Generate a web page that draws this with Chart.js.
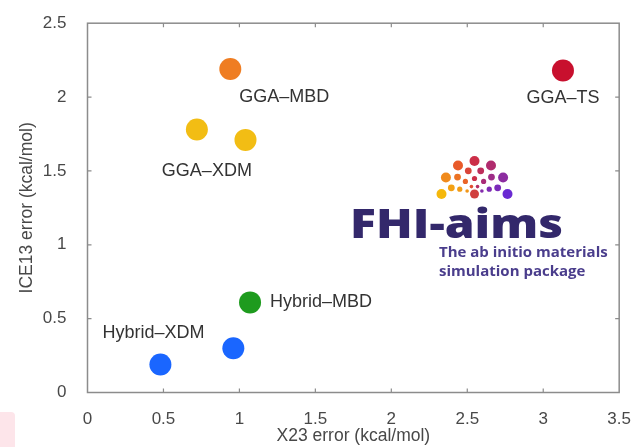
<!DOCTYPE html>
<html>
<head>
<meta charset="utf-8">
<script src="https://cdn.jsdelivr.net/npm/chart.js@4"></script>
<style>
  html, body { margin: 0; padding: 0; background: #fff; }
  #wrap { position: relative; width: 640px; height: 447px; }
  #blob { position: absolute; left: 0; top: 412px; width: 15px; height: 35px; background: #fde5ea; border-top-right-radius: 4px; }
</style>
</head>
<body>
<div id="wrap">
  <div id="blob"></div>
  <canvas id="chart"></canvas>
</div>
<script>
// datos
const grupos = ['GGA–MBD', 'GGA–TS', 'GGA–XDM', 'Hybrid–MBD', 'Hybrid–XDM'];
const errX23 = [[0.94], [3.13], [0.72, 1.04], [1.07], [0.48, 0.96]];
const errICE13 = [[2.19], [2.18], [1.78, 1.71], [0.61], [0.19, 0.30]];
const colores = ['#ef7d22', '#c8102e', '#f2bd14', '#1e9b1e', '#1a66ff'];
const ticksX = [0, 0.5, 1, 1.5, 2, 2.5, 3, 3.5];
const ticksY = [0, 0.5, 1, 1.5, 2, 2.5];

// donde va cada etiqueta respecto al primer punto del grupo
const etiquetas = {
  'GGA–MBD':    { dx: 9,  dy: 28, align: 'left' },
  'GGA–TS':     { dx: 0,  dy: 28, align: 'center' },
  'GGA–XDM':    { dx: 10, dy: 41, align: 'center' },
  'Hybrid–MBD': { dx: 20, dy: 0,  align: 'left' },
  'Hybrid–XDM': { dx: -7, dy: -31, align: 'center' }
};

const datasets = grupos.map((g, i) => ({
  label: g,
  data: errX23[i].map((x, j) => ({ x, y: errICE13[i][j] })),
  backgroundColor: colores[i],
  borderWidth: 0,
  pointRadius: 11,
  pointHoverRadius: 11
}));

// marco con marcas hacia dentro
const marco = {
  id: 'marco',
  beforeDatasetsDraw(chart) {
    const { ctx, chartArea: a, scales: { x, y } } = chart;
    ctx.save();
    ctx.strokeStyle = '#8c8c8c';
    ctx.lineWidth = 1.5;
    ctx.strokeRect(a.left, a.top, a.right - a.left, a.bottom - a.top);
    ctx.lineWidth = 1.2;
    ctx.beginPath();
    for (const v of ticksX.slice(1, -1)) {
      const px = x.getPixelForValue(v);
      ctx.moveTo(px, a.bottom); ctx.lineTo(px, a.bottom - 4);
      ctx.moveTo(px, a.top); ctx.lineTo(px, a.top + 4);
    }
    for (const v of ticksY.slice(1, -1)) {
      const py = y.getPixelForValue(v);
      ctx.moveTo(a.left, py); ctx.lineTo(a.left + 4, py);
      ctx.moveTo(a.right, py); ctx.lineTo(a.right - 4, py);
    }
    ctx.stroke();
    ctx.restore();
  }
};

// nombres de los grupos junto a los puntos
const rotulos = {
  id: 'rotulos',
  afterDatasetsDraw(chart) {
    const { ctx } = chart;
    ctx.save();
    ctx.font = '18px "Liberation Sans", Arial, sans-serif';
    ctx.fillStyle = '#333';
    ctx.textBaseline = 'middle';
    chart.data.datasets.forEach((ds, i) => {
      const p = chart.getDatasetMeta(i).data[0];
      const e = etiquetas[ds.label];
      ctx.textAlign = e.align;
      ctx.fillText(ds.label, p.x + e.dx, p.y + e.dy);
    });
    ctx.restore();
  }
};

// logo FHI-aims (decorativo)
const logo = {
  id: 'logo',
  afterDatasetsDraw(chart) {
    const { ctx } = chart;
    const cx = 474.5, cy = 198;
    const paleta = ['#f5b80c', '#f08a1c', '#e85a2a', '#cc2f48', '#b02c6e', '#8c2ca0', '#6a2ad2'];
    const colorAng = (t) => {
      const f = t * (paleta.length - 1);
      const k = Math.min(Math.floor(f), paleta.length - 2);
      return [paleta[k], paleta[k + 1], f - k];
    };
    const mezcla = (c1, c2, t) => {
      const a = parseInt(c1.slice(1), 16), b = parseInt(c2.slice(1), 16);
      const r = Math.round(((a >> 16) & 255) * (1 - t) + ((b >> 16) & 255) * t);
      const g = Math.round(((a >> 8) & 255) * (1 - t) + ((b >> 8) & 255) * t);
      const bl = Math.round((a & 255) * (1 - t) + (b & 255) * t);
      return `rgb(${r},${g},${bl})`;
    };
    const anillos = [
      { r: 33, n: 7, s: 5, off: 0 },
      { r: 24, n: 6, s: 3.4, off: 0.5 },
      { r: 15.5, n: 5, s: 2.6, off: 0.5 },
      { r: 8, n: 4, s: 1.8, off: 0.5 }
    ];
    ctx.save();
    for (const an of anillos) {
      for (let k = 0; k < an.n; k++) {
        const frac = an.off ? (k + an.off) / an.n : k / (an.n - 1);
        const ang = Math.PI * (1 - frac);
        const [c1, c2, t] = colorAng(frac);
        ctx.fillStyle = mezcla(c1, c2, t);
        ctx.beginPath();
        ctx.arc(cx + an.r * Math.cos(ang), cy - 4 - an.r * Math.sin(ang), an.s, 0, Math.PI * 2);
        ctx.fill();
      }
    }
    ctx.fillStyle = '#d0403e';
    ctx.beginPath(); ctx.arc(cx, cy - 4, 4.5, 0, Math.PI * 2); ctx.fill();

    ctx.fillStyle = '#33286b';
    ctx.textBaseline = 'alphabetic';
    ctx.textAlign = 'left';
    ctx.font = '800 41px "Open Sans", sans-serif';
    const w = ctx.measureText('FHI-aims').width;
    ctx.save();
    ctx.translate(350, 238);
    ctx.scale(213 / w, 1);
    ctx.fillText('FHI-aims', 0, 0);
    ctx.restore();
    ctx.fillStyle = '#4a3d8c';
    ctx.font = 'bold 15px "Open Sans", sans-serif';
    ctx.textBaseline = 'middle';
    ctx.fillText('The ab initio materials', 439, 253, 169);
    ctx.fillText('simulation package', 439, 272, 150);
    ctx.restore();
  }
};

const fuenteTick = { family: '"Liberation Sans", Arial, sans-serif', size: 17 };
const fuenteTitulo = { family: '"Liberation Sans", Arial, sans-serif', size: 17.5 };

new Chart(document.getElementById('chart'), {
  type: 'scatter',
  data: { datasets },
  options: {
    responsive: true,
    maintainAspectRatio: false,
    animation: false,
    layout: { padding: { top: 16, right: 16, left: 0, bottom: 0 } },
    plugins: { legend: { display: false }, tooltip: { enabled: false } },
    scales: {
      x: {
        type: 'linear',
        min: 0, max: 3.5,
        afterBuildTicks: (s) => { s.ticks = ticksX.map(v => ({ value: v })); },
        afterFit: (s) => { s.height = 54.5; },
        grid: { display: false },
        border: { display: false },
        ticks: { color: '#484848', font: fuenteTick, padding: 9, maxRotation: 0, callback: (v) => String(v) },
        title: { display: true, text: 'X23 error (kcal/mol)', color: '#484848', font: fuenteTitulo, padding: { top: 0, bottom: 0 } }
      },
      y: {
        type: 'linear',
        min: 0, max: 2.5,
        afterBuildTicks: (s) => { s.ticks = ticksY.map(v => ({ value: v })); },
        afterFit: (s) => { s.width = 87.5; },
        grid: { display: false },
        border: { display: false },
        ticks: { color: '#484848', font: fuenteTick, padding: 13, callback: (v) => String(v) },
        title: { display: true, text: 'ICE13 error (kcal/mol)', color: '#484848', font: fuenteTitulo, padding: { top: 17, bottom: 0 } }
      }
    }
  },
  plugins: [marco, rotulos, logo]
});
</script>
</body>
</html>
